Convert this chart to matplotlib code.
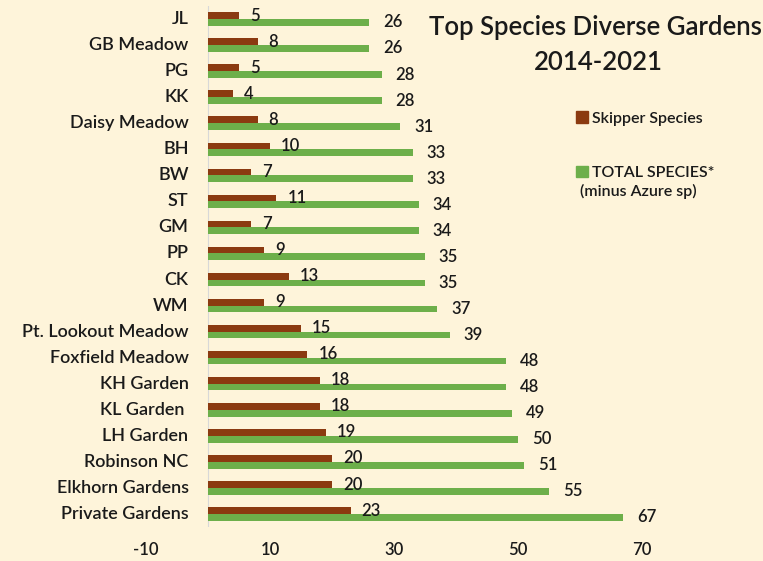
import numpy as np
import matplotlib.pyplot as plt
from matplotlib.patches import Patch

plt.rcParams['font.family'] = ['Lato', 'DejaVu Sans']
plt.rcParams['font.weight'] = 'semibold'

gardens = ["JL", "GB Meadow", "PG", "KK", "Daisy Meadow", "BH", "BW", "ST", "GM", "PP",
           "CK", "WM", "Pt. Lookout Meadow", "Foxfield Meadow", "KH Garden", "KL Garden ",
           "LH Garden", "Robinson NC", "Elkhorn Gardens", "Private Gardens"]
skipper = [5, 8, 5, 4, 8, 10, 7, 11, 7, 9, 13, 9, 15, 16, 18, 18, 19, 20, 20, 23]
total = [26, 26, 28, 28, 31, 33, 33, 34, 34, 35, 35, 37, 39, 48, 48, 49, 50, 51, 55, 67]
ticks = [-10, 10, 30, 50, 70]

bg = "#FEF4DA"
brown = "#8B3A10"
green = "#6DAF4A"
txt = "#1a1a1a"

fig = plt.figure(figsize=(7.63, 5.61), dpi=100, facecolor=bg)
ax = fig.add_axes([146/763, 34/561, 527/763, 521/561], facecolor=bg)

y = np.arange(len(gardens))
h = 0.26
b1 = ax.barh(y - h/2, skipper, height=h, color=brown)
b2 = ax.barh(y + h/2, total, height=h, color=green)
ax.bar_label(b1, padding=8, fontsize=12, color=txt)
ax.bar_label(b2, padding=10, fontsize=12, color=txt)

ax.set_xlim(-10, 75)
ax.set_ylim(len(gardens) - 0.5, -0.5)
ax.axvline(0, color="#d8d8d8", lw=0.8, zorder=0)

# garden names sit left of the zero line, not at the axes edge
for i, name in enumerate(gardens):
    ax.annotate(name, xy=(0, i), xytext=(-14, 0), textcoords="offset points",
                ha="right", va="center", fontsize=13, color=txt, annotation_clip=False)

ax.set_yticks([])
ax.set_xticks(ticks)
ax.set_xticklabels([str(t) for t in ticks], fontsize=12, color=txt)
ax.tick_params(axis="x", length=0, pad=11)
for s in ax.spines.values():
    s.set_visible(False)

fig.text(595/763, 1 - 28/561, "Top Species Diverse Gardens", ha="center", va="center",
         fontsize=18.5, color=txt)
fig.text(598/763, 1 - 62/561, "2014-2021", ha="center", va="center", fontsize=18.5, color=txt)

handles = [Patch(color=brown), Patch(color=green)]
leg = fig.legend(handles, ["Skipper Species", "TOTAL SPECIES*"], loc="upper left",
                 bbox_to_anchor=(562/763, 1 - 97/561), frameon=False, fontsize=11.5,
                 handlelength=0.7, handleheight=0.7, handletextpad=0.3, labelspacing=2.55)
for t in leg.get_texts():
    t.set_color(txt)
fig.text(580/763, 1 - 191/561, "(minus Azure sp)", ha="left", va="center", fontsize=11.5, color=txt)

fig.savefig("out.png", dpi=100, facecolor=bg)
